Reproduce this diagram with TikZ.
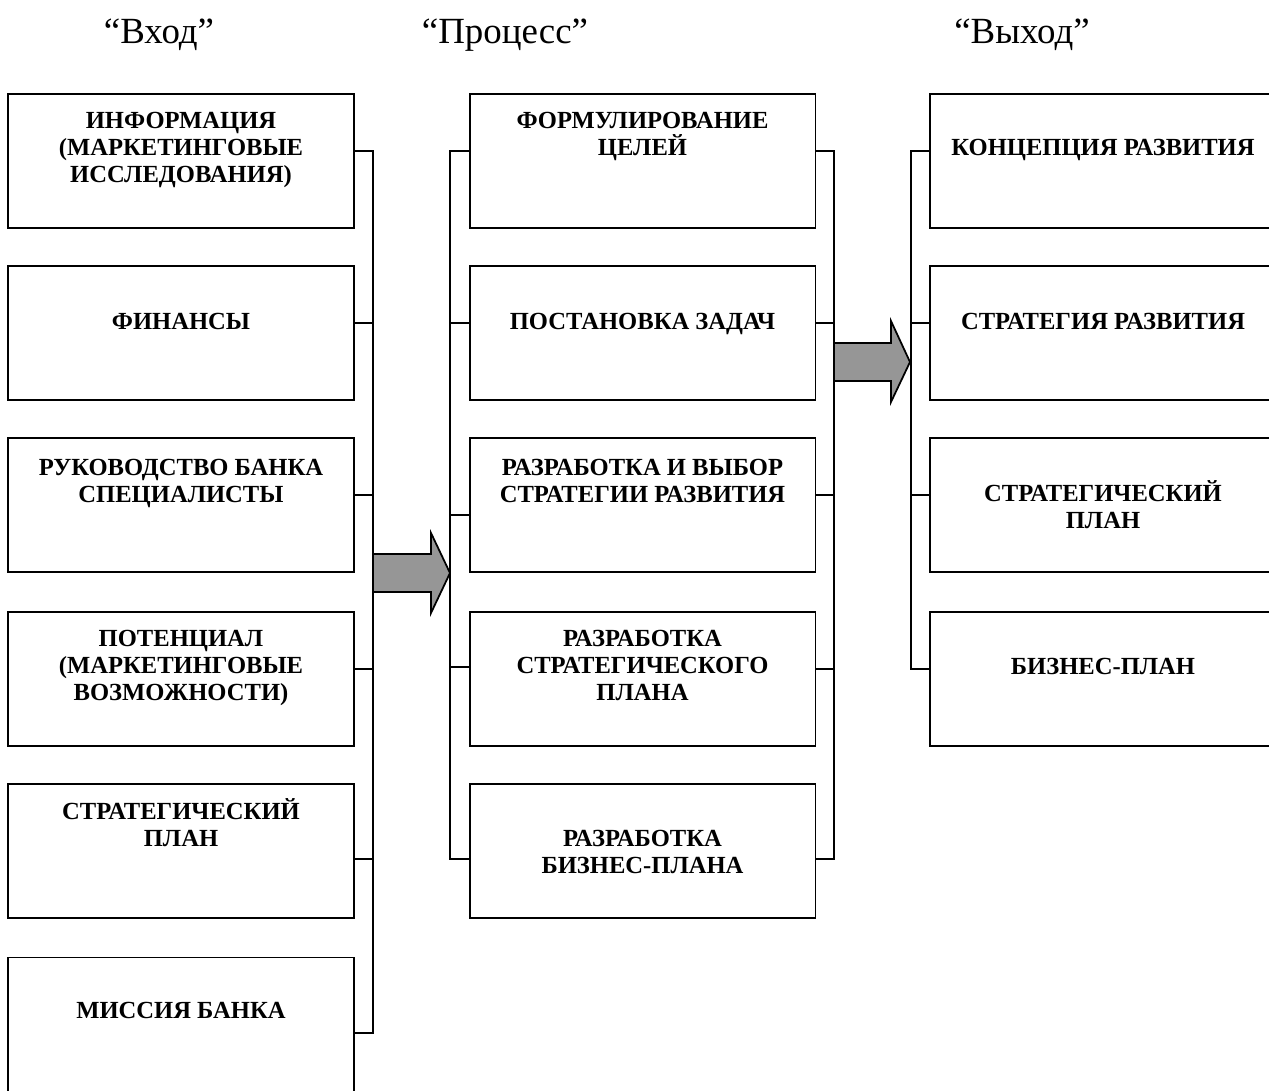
\documentclass[tikz,border=0pt]{standalone}
\usepackage{fontspec}
\setmainfont{Liberation Serif}
\usetikzlibrary{calc}
\definecolor{arrowgray}{RGB}{150,150,150}
\begin{document}
\begin{tikzpicture}[x=0.02cm, y=-0.02cm, line width=1.1pt,
    blk/.style={draw, minimum width=6.92cm, minimum height=2.68cm, inner sep=0pt},
    txt/.style={font=\bfseries\fontsize{14}{15.4}\selectfont, align=center},
    head/.style={font=\fontsize{21}{25}\selectfont, anchor=base},
    bigarrow/.style={draw, fill=arrowgray, line width=1pt}]
    \useasboundingbox (0,0) rectangle (1269,1090);

    % column headings
    \node[head] (hin) at (159,43) {“Вход”};
    \node[head] (hproc) at (505,43) {“Процесс”};
    \node[head] (hout) at (1022,43) {“Выход”};

    % input column
    \node[blk] (l1) at (181,161) {};
    \node[blk] (l2) at (181,333) {};
    \node[blk] (l3) at (181,505) {};
    \node[blk] (l4) at (181,679) {};
    \node[blk] (l5) at (181,851) {};
    \node[blk] (l6) at (181,1024.5) {};
    \node[txt] (l1t) at ($(l1.north)+(0,57)$) {ИНФОРМАЦИЯ\\(МАРКЕТИНГОВЫЕ\\ИССЛЕДОВАНИЯ)};
    \node[txt] (l2t) at ($(l2.north)+(0,56)$) {ФИНАНСЫ};
    \node[txt] (l3t) at ($(l3.north)+(0,46)$) {РУКОВОДСТВО БАНКА\\СПЕЦИАЛИСТЫ};
    \node[txt] (l4t) at ($(l4.north)+(0,57)$) {ПОТЕНЦИАЛ\\(МАРКЕТИНГОВЫЕ\\ВОЗМОЖНОСТИ)};
    \node[txt] (l5t) at ($(l5.north)+(0,40)$) {СТРАТЕГИЧЕСКИЙ\\ПЛАН};
    \node[txt] (l6t) at ($(l6.north)+(0,54)$) {МИССИЯ БАНКА};

    % process column
    \node[blk] (m1) at (642.5,161) {};
    \node[blk] (m2) at (642.5,333) {};
    \node[blk] (m3) at (642.5,505) {};
    \node[blk] (m4) at (642.5,679) {};
    \node[blk] (m5) at (642.5,851) {};
    \node[txt] (m1t) at ($(m1.north)+(0,43)$) {ФОРМУЛИРОВАНИЕ\\ЦЕЛЕЙ};
    \node[txt] (m2t) at ($(m2.north)+(0,59)$) {ПОСТАНОВКА ЗАДАЧ};
    \node[txt] (m3t) at ($(m3.north)+(0,44)$) {РАЗРАБОТКА И ВЫБОР\\СТРАТЕГИИ РАЗВИТИЯ};
    \node[txt] (m4t) at ($(m4.north)+(0,54)$) {РАЗРАБОТКА\\СТРАТЕГИЧЕСКОГО\\ПЛАНА};
    \node[txt] (m5t) at ($(m5.north)+(0,69)$) {РАЗРАБОТКА\\БИЗНЕС-ПЛАНА};

    % output column
    \node[blk] (r1) at (1103,161) {};
    \node[blk] (r2) at (1103,333) {};
    \node[blk] (r3) at (1103,505) {};
    \node[blk] (r4) at (1103,679) {};
    \node[txt] (r1t) at ($(r1.north)+(0,57)$) {КОНЦЕПЦИЯ РАЗВИТИЯ};
    \node[txt] (r2t) at ($(r2.north)+(0,56)$) {СТРАТЕГИЯ РАЗВИТИЯ};
    \node[txt] (r3t) at ($(r3.north)+(0,68)$) {СТРАТЕГИЧЕСКИЙ\\ПЛАН};
    \node[txt] (r4t) at ($(r4.north)+(0,55)$) {БИЗНЕС-ПЛАН};

    % brackets
    \coordinate (lbus) at (373,1034);
    \coordinate (mbusl) at (450,860);
    \coordinate (mbusr) at (834,860);
    \coordinate (rbus) at (911,670);

    \draw ($(l1.north east)+(0,58)$) -| (lbus);
    \draw ($(l2.north east)+(0,58)$) -| (lbus);
    \draw ($(l3.north east)+(0,58)$) -| (lbus);
    \draw ($(l4.north east)+(0,58)$) -| (lbus);
    \draw ($(l5.north east)+(0,76)$) -| (lbus);
    \draw ($(l6.north east)+(0,76.5)$) -| (lbus);

    \draw ($(m1.north west)+(0,58)$) -| (mbusl);
    \draw ($(m2.north west)+(0,58)$) -| (mbusl);
    \draw ($(m3.north west)+(0,78)$) -| (mbusl);
    \draw ($(m4.north west)+(0,56)$) -| (mbusl);
    \draw ($(m5.north west)+(0,76)$) -| (mbusl);

    \draw ($(m1.north east)+(0,58)$) -| (mbusr);
    \draw ($(m2.north east)+(0,58)$) -| (mbusr);
    \draw ($(m3.north east)+(0,58)$) -| (mbusr);
    \draw ($(m4.north east)+(0,58)$) -| (mbusr);
    \draw ($(m5.north east)+(0,76)$) -| (mbusr);

    \draw ($(r1.north west)+(0,58)$) -| (rbus);
    \draw ($(r2.north west)+(0,58)$) -| (rbus);
    \draw ($(r3.north west)+(0,58)$) -| (rbus);
    \draw ($(r4.north west)+(0,58)$) -| (rbus);

    % block arrows
    \coordinate (arr1) at (373,573);
    \coordinate (arr2) at (834,362);
    \draw[bigarrow] (arr1) ++(0,-19) -- ++(58,0) -- ++(0,-21) -- ++(19,40) -- ++(-19,40) -- ++(0,-21) -- ++(-58,0) -- cycle;
    \draw[bigarrow] (arr2) ++(0,-19) -- ++(57,0) -- ++(0,-22) -- ++(19,41) -- ++(-19,40) -- ++(0,-21) -- ++(-57,0) -- cycle;
\end{tikzpicture}
\end{document}
